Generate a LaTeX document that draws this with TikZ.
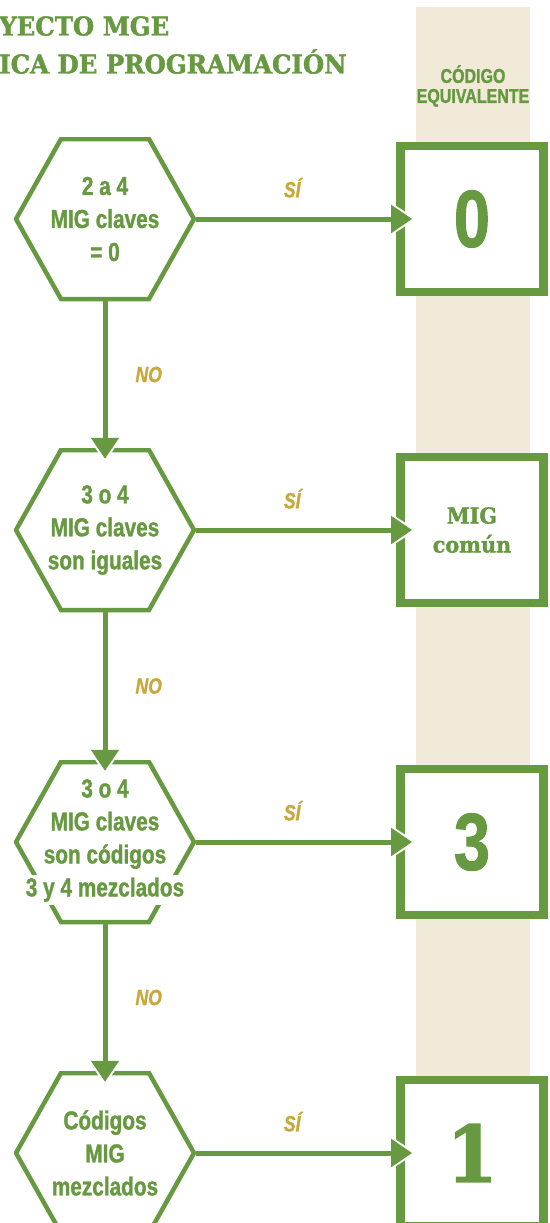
\documentclass[tikz,border=0pt]{standalone}
\usepackage{fontspec}
\usepackage{xcolor}
\usepackage{tikz}
\usetikzlibrary{arrows.meta,positioning}
\setmainfont{Liberation Sans}
\newfontfamily\condfont[FakeStretch=0.8,BoldFont={Liberation Sans Bold},BoldFeatures={FakeBold=1.2},BoldItalicFont={Liberation Sans Bold Italic},BoldItalicFeatures={FakeBold=1.2}]{Liberation Sans}
\newfontfamily\slabfont[FakeStretch=0.94,BoldFont={DejaVu Serif Bold},BoldFeatures={FakeBold=1.6}]{DejaVu Serif}
\definecolor{mgegreen}{RGB}{102,153,64}
\definecolor{mgegold}{RGB}{200,168,58}
\definecolor{mgebeige}{RGB}{241,234,217}

\begin{document}
\begin{tikzpicture}[x=1pt,y=-1pt,every node/.style={text=mgegreen,align=center},
    decision/.style={fill=white,minimum width=182pt,minimum height=164pt,inner sep=0pt,
      font=\condfont\bfseries\fontsize{26}{33}\selectfont,
      path picture={\draw[mgegreen,line width=4.5pt] ([xshift=-89pt]path picture bounding box.center)
        -- ++(45,-80) -- ++(88,0) -- ++(45,80) -- ++(-45,80) -- ++(-88,0) -- cycle;}},
    outcome/.style={draw=mgegreen,line width=8.5pt,fill=white,minimum width=143pt,minimum height=146pt,inner sep=0pt},
    halo/.style={white,line width=5pt,-{Triangle[length=30pt,width=38pt]},shorten >=#1-4pt},
    flow/.style={mgegreen,line width=5pt,-{Triangle[length=21pt,width=27pt]},shorten >=#1},
    answer/.style={text=mgegold,inner sep=0pt,font=\condfont\bfseries\itshape\fontsize{22}{22}\selectfont}]
  \useasboundingbox (0,0) rectangle (549,1223);
  \fill[mgebeige] (416,7) rectangle (530,1223);
  \node[anchor=north west,align=left,inner sep=0pt,font=\slabfont\bfseries\fontsize{26}{38}\selectfont] (title) at (-1,16) {YECTO MGE\\ICA DE PROGRAMACIÓN};
  \node[font=\condfont\bfseries\fontsize{20}{20}\selectfont] (head) at (473,86) {CÓDIGO\\EQUIVALENTE};
  % decisiones
  \node[decision] (q1) at (105,219) {2 a 4\\MIG claves\\= 0};
  \node[decision] (q2) at (105,530) {3 o 4\\MIG claves\\son iguales};
  \node[decision] (q3) at (105,842) {3 o 4\\MIG claves\\son códigos\\{\setlength{\fboxsep}{3pt}\colorbox{white}{3 y 4 mezclados}}};
  \node[decision] (q4) at (105,1153) {Códigos\\MIG\\mezclados};
  % codigos
  \node[outcome,right=200pt of q1,font=\condfont\bfseries\fontsize{81}{81}\selectfont] (r1) {0};
  \node[outcome,right=200pt of q2,font=\slabfont\bfseries\fontsize{22}{29}\selectfont] (r2) {MIG\\común};
  \node[outcome,right=200pt of q3,font=\condfont\bfseries\fontsize{81}{81}\selectfont] (r3) {3};
  \node[outcome,right=200pt of q4,font=\slabfont\bfseries\fontsize{78}{78}\selectfont] (r4) {1};
  \foreach \i in {1,...,4}{
    \draw[halo=-16pt] (q\i.east) -- (r\i.west);
    \draw[flow=-16pt] (q\i.east) -- node[answer,above=19pt,pos=0.48] {SÍ} (r\i.west);}
  \foreach \i/\j in {1/2,2/3,3/4}{
    \draw[halo=-11pt] (q\i.south) -- (q\j.north);
    \draw[flow=-11pt] (q\i.south) -- node[answer,right=28pt] {NO} (q\j.north);}
\end{tikzpicture}
\end{document}
